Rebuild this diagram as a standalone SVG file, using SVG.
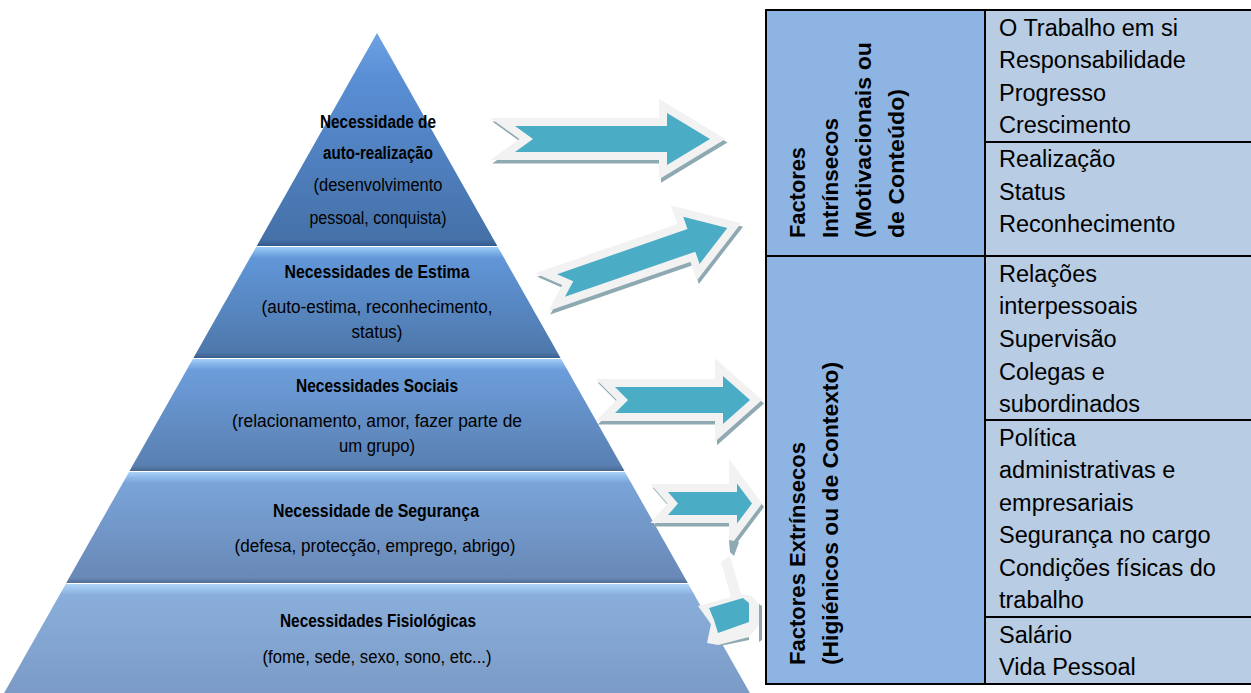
<svg xmlns="http://www.w3.org/2000/svg" width="1251" height="693" viewBox="0 0 1251 693">
<style>
.pt{font-family:"Liberation Sans Narrow","Liberation Sans",Arial,sans-serif;font-size:17.5px;fill:#000;text-anchor:middle}
.pb{font-weight:bold}
.ar{fill:#4bacc6;stroke:#f2f2f2;stroke-width:16;stroke-linejoin:miter;stroke-miterlimit:10;paint-order:stroke}
.sh{fill:#8ea9b1;stroke:#8ea9b1;stroke-width:16;stroke-linejoin:miter;stroke-miterlimit:10}
.tr{font-family:"Liberation Sans",Arial,sans-serif;font-size:23.5px;fill:#000}
.tl{font-family:"Liberation Sans",Arial,sans-serif;font-size:22.5px;font-weight:bold;fill:#000}
.ln{stroke:#000;stroke-width:2;fill:none}
</style>
<defs>
<linearGradient id="g1" x1="0" y1="0" x2="0" y2="1">
<stop offset="0" stop-color="#6ea4e2"/><stop offset="0.2" stop-color="#5a8fd6"/><stop offset="0.97" stop-color="#4571a8"/><stop offset="1" stop-color="#34598a"/>
</linearGradient>
<linearGradient id="g2" x1="0" y1="0" x2="0" y2="1">
<stop offset="0" stop-color="#a0cdf6"/><stop offset="0.05" stop-color="#7cb0e8"/><stop offset="0.1" stop-color="#6196d8"/><stop offset="0.95" stop-color="#4e78ab"/><stop offset="1" stop-color="#3a5f8c"/>
</linearGradient>
<linearGradient id="g3" x1="0" y1="0" x2="0" y2="1">
<stop offset="0" stop-color="#a5cff6"/><stop offset="0.05" stop-color="#82b3e9"/><stop offset="0.1" stop-color="#6c9dda"/><stop offset="0.95" stop-color="#5a80b2"/><stop offset="1" stop-color="#47688f"/>
</linearGradient>
<linearGradient id="g4" x1="0" y1="0" x2="0" y2="1">
<stop offset="0" stop-color="#acd2f6"/><stop offset="0.05" stop-color="#8cb9ea"/><stop offset="0.1" stop-color="#7aa4d8"/><stop offset="0.95" stop-color="#6989b7"/><stop offset="1" stop-color="#546f96"/>
</linearGradient>
<linearGradient id="g5" x1="0" y1="0" x2="0" y2="1">
<stop offset="0" stop-color="#b3d6f8"/><stop offset="0.05" stop-color="#9ac2ec"/><stop offset="0.1" stop-color="#8aaedb"/><stop offset="1" stop-color="#7b9bc6"/>
</linearGradient>
</defs>
<rect x="0" y="0" width="1251" height="693" fill="#fff"/>

<g id="pyramid">
<g id="tier1">
<polygon points="377,33 497.3,246 256.7,246" fill="url(#g1)"/>
<text class="pt pb" x="378" y="128" textLength="116" lengthAdjust="spacingAndGlyphs">Necessidade de</text>
<text class="pt pb" x="378" y="159" textLength="110" lengthAdjust="spacingAndGlyphs">auto-realização</text>
<text class="pt" x="378" y="191" textLength="129" lengthAdjust="spacingAndGlyphs">(desenvolvimento</text>
<text class="pt" x="378" y="224" textLength="137" lengthAdjust="spacingAndGlyphs">pessoal, conquista)</text>
</g>
<g id="tier2">
<polygon points="256.1,247 497.9,247 560.6,358 193.4,358" fill="url(#g2)"/>
<text class="pt pb" x="377" y="278" textLength="185" lengthAdjust="spacingAndGlyphs">Necessidades de Estima</text>
<text class="pt" x="377" y="313" textLength="231" lengthAdjust="spacingAndGlyphs">(auto-estima, reconhecimento,</text>
<text class="pt" x="377" y="338" textLength="51" lengthAdjust="spacingAndGlyphs">status)</text>
</g>
<g id="tier3">
<polygon points="192.8,359 561.2,359 624.5,471 129.5,471" fill="url(#g3)"/>
<text class="pt pb" x="377" y="392" textLength="162" lengthAdjust="spacingAndGlyphs">Necessidades Sociais</text>
<text class="pt" x="377" y="427" textLength="290" lengthAdjust="spacingAndGlyphs">(relacionamento, amor, fazer parte de</text>
<text class="pt" x="377" y="452" textLength="76" lengthAdjust="spacingAndGlyphs">um grupo)</text>
</g>
<g id="tier4">
<polygon points="129,472 625,472 687.8,583 66.2,583" fill="url(#g4)"/>
<text class="pt pb" x="376" y="517" textLength="206" lengthAdjust="spacingAndGlyphs">Necessidade de Segurança</text>
<text class="pt" x="375" y="552" textLength="281" lengthAdjust="spacingAndGlyphs">(defesa, protecção, emprego, abrigo)</text>
</g>
<g id="tier5">
<polygon points="65.7,584 688.3,584 749.9,693 4.1,693" fill="url(#g5)"/>
<text class="pt pb" x="378" y="627" textLength="196" lengthAdjust="spacingAndGlyphs">Necessidades Fisiológicas</text>
<text class="pt" x="377" y="663" textLength="229" lengthAdjust="spacingAndGlyphs">(fome, sede, sexo, sono, etc...)</text>
</g>
</g>

<g id="connectors">
<g id="arrow1">
<path class="sh" transform="translate(517,142.5)" d="M0,-13 L152,-13 L152,-26 L195,0 L152,26 L152,13 L0,13 L18,0 Z"/>
<path class="ar" transform="translate(515,139)" d="M0,-13 L152,-13 L152,-26 L195,0 L152,26 L152,13 L0,13 L18,0 Z"/>
</g>
<g id="arrow2">
<path class="sh" transform="translate(563,289) rotate(-19.1)" d="M0,-12 L138,-12 L138,-25 L176,0 L138,25 L138,12 L0,12 L13,0 Z"/>
<path class="ar" transform="translate(561,285.5) rotate(-19.1)" d="M0,-12 L138,-12 L138,-25 L176,0 L138,25 L138,12 L0,12 L13,0 Z"/>
</g>
<g id="arrow3">
<path class="sh" transform="translate(617,403.5)" d="M0,-13 L108,-13 L108,-24 L135,0 L108,24 L108,13 L0,13 L13,0 Z"/>
<path class="ar" transform="translate(615,400)" d="M0,-13 L108,-13 L108,-24 L135,0 L108,24 L108,13 L0,13 L13,0 Z"/>
</g>
<g id="arrow4">
<path class="sh" transform="translate(670,507)" d="M0,-11.5 L69,-11.5 L69,-20 L84,0 L69,20 L69,11.5 L0,11.5 L10,0 Z"/>
<path class="ar" transform="translate(668,503.5)" d="M0,-11.5 L69,-11.5 L69,-20 L84,0 L69,20 L69,11.5 L0,11.5 L10,0 Z"/>
</g>
<g id="arrow5">
<polygon points="729,540 739,542 734,556 730,552" fill="#8ea9b1"/>
<polygon points="718,641 749,634 749,640 720,646" fill="#8ea9b1"/>
<polygon points="759,604 762,606 762,640 759,642" fill="#8ea9b1"/>
<polygon points="721,562 730,556 741,594 752,596 759,604 759,625 749,637 718,645 707,643 711,624 698,606 731,597" fill="#f2f2f2"/>
<polygon points="709,608 743,598 749,603 749,622 718,633 714,620" fill="#4bacc6"/>
</g>
</g>

<g id="table">
<rect x="766" y="10" width="219" height="674" fill="#8eb4e3"/>
<rect x="985" y="10" width="280" height="674" fill="#b8cce4"/>
<rect class="ln" x="766" y="10" width="500" height="674"/>
<line class="ln" x1="985" y1="10" x2="985" y2="684"/>
<line class="ln" x1="985" y1="142" x2="1260" y2="142"/>
<line class="ln" x1="766" y1="256" x2="1260" y2="256"/>
<line class="ln" x1="985" y1="420" x2="1260" y2="420"/>
<line class="ln" x1="985" y1="617" x2="1260" y2="617"/>
<g id="intrinsecos">
<text class="tl" transform="translate(805,238) rotate(-90)" textLength="91" lengthAdjust="spacingAndGlyphs">Factores</text>
<text class="tl" transform="translate(838,238) rotate(-90)" textLength="120" lengthAdjust="spacingAndGlyphs">Intrínsecos</text>
<text class="tl" transform="translate(871,238) rotate(-90)" textLength="196" lengthAdjust="spacingAndGlyphs">(Motivacionais ou</text>
<text class="tl" transform="translate(904,238) rotate(-90)" textLength="149" lengthAdjust="spacingAndGlyphs">de Conteúdo)</text>
</g>
<g id="extrinsecos">
<text class="tl" transform="translate(805,665) rotate(-90)" textLength="223" lengthAdjust="spacingAndGlyphs">Factores Extrínsecos</text>
<text class="tl" transform="translate(838,665) rotate(-90)" textLength="303" lengthAdjust="spacingAndGlyphs">(Higiénicos ou de Contexto)</text>
</g>
<g id="cell1">
<text class="tr" x="999" y="36">O Trabalho em si</text>
<text class="tr" x="999" y="68">Responsabilidade</text>
<text class="tr" x="999" y="101">Progresso</text>
<text class="tr" x="999" y="133">Crescimento</text>
</g>
<g id="cell2">
<text class="tr" x="999" y="167">Realização</text>
<text class="tr" x="999" y="200">Status</text>
<text class="tr" x="999" y="232">Reconhecimento</text>
</g>
<g id="cell3">
<text class="tr" x="999" y="282">Relações</text>
<text class="tr" x="999" y="314">interpessoais</text>
<text class="tr" x="999" y="347">Supervisão</text>
<text class="tr" x="999" y="380">Colegas e</text>
<text class="tr" x="999" y="412">subordinados</text>
</g>
<g id="cell4">
<text class="tr" x="999" y="446">Política</text>
<text class="tr" x="999" y="478">administrativas e</text>
<text class="tr" x="999" y="511">empresariais</text>
<text class="tr" x="999" y="543">Segurança no cargo</text>
<text class="tr" x="999" y="576">Condições físicas do</text>
<text class="tr" x="999" y="608">trabalho</text>
</g>
<g id="cell5">
<text class="tr" x="999" y="643">Salário</text>
<text class="tr" x="999" y="675">Vida Pessoal</text>
</g>
</g>
</svg>
